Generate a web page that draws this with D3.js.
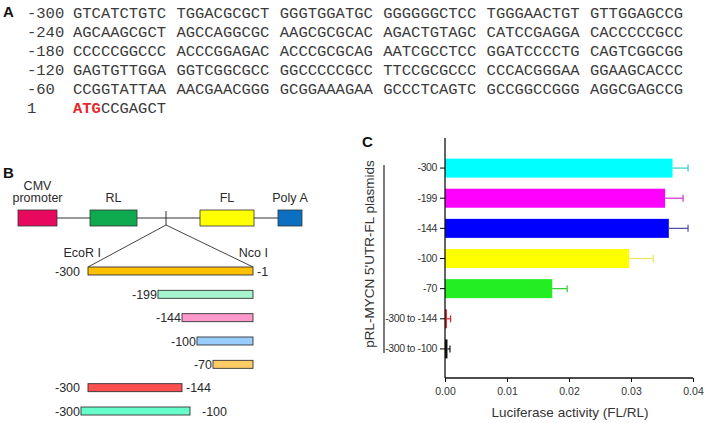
<!DOCTYPE html>
<html>
<head>
<meta charset="utf-8">
<script src="https://cdn.jsdelivr.net/npm/d3@7"></script>
<style>
body { margin:0; background:#fff; }
svg { display:block; }
</style>
</head>
<body>
<svg id="fig" width="704" height="423"></svg>
<script>
// panel A: sequence
var seqNumbers = ["-300", "-240", "-180", "-120", "-60", "1"];
var seqRows = [
  ["GTCATCTGTC", "TGGACGCGCT", "GGGTGGATGC", "GGGGGGCTCC", "TGGGAACTGT", "GTTGGAGCCG"],
  ["AGCAAGCGCT", "AGCCAGGCGC", "AAGCGCGCAC", "AGACTGTAGC", "CATCCGAGGA", "CACCCCCGCC"],
  ["CCCCCGGCCC", "ACCCGGAGAC", "ACCCGCGCAG", "AATCGCCTCC", "GGATCCCCTG", "CAGTCGGCGG"],
  ["GAGTGTTGGA", "GGTCGGCGCC", "GGCCCCCGCC", "TTCCGCGCCC", "CCCACGGGAA", "GGAAGCACCC"],
  ["CCGGTATTAA", "AACGAACGGG", "GCGGAAAGAA", "GCCCTCAGTC", "GCCGGCCGGG", "AGGCGAGCCG"],
  ["CCGAGCT"]
];
var startCodon = "ATG";

// panel B: vector and fragments
var cassette = ["CMV promoter", "RL", "FL", "Poly A"];
var cassetteColors = ["#e8095f", "#0fa94f", "#ffff00", "#0b6fc2"];
var fragStart = [-300, -199, -144, -100, -70, -300, -300];
var fragEnd = [-1, -1, -1, -1, -1, -144, -100];
var fragLeft = ["-300", "-199", "-144", "-100", "-70", "-300", "-300"];
var fragRight = ["-1", "", "", "", "", "-144", "-100"];
var fragColors = ["#ffc000", "#a6f5cf", "#ff99cc", "#99ccff", "#ffcc66", "#ff4f4f", "#66ffcc"];

// panel C: luciferase activity
var plasmids = ["-300", "-199", "-144", "-100", "-70", "-300 to -144", "-300 to -100"];
var activity = [0.0367, 0.0355, 0.0361, 0.0297, 0.0173, 0.0003, 0.0004];
var activityErr = [0.0025, 0.0029, 0.0031, 0.0039, 0.0024, 0.0006, 0.0004];
var barColors = ["#00ffff", "#ff00ff", "#0000ff", "#ffff00", "#22ee22", "#ee1111", "#111111"];
var errColors = ["#33cccc", "#cc33cc", "#4a4aa8", "#e8e860", "#33cc33", "#ee2222", "#111111"];
var xTicks = [0, 0.01, 0.02, 0.03, 0.04];

var svg = d3.select("#fig");
var sans = "Liberation Sans, Arial, sans-serif";
var mono = "Liberation Mono, Courier New, monospace";

function panelLabel(t, x, y) {
  svg.append("text").attr("x", x).attr("y", y)
    .attr("font-family", sans).attr("font-weight", "bold").attr("font-size", 15)
    .attr("fill", "#111").text(t);
}

// ---------- A ----------
panelLabel("A", 3, 17);
var gx = d3.scaleLinear().domain([0, 5]).range([73, 590]);
var ry = d3.scaleLinear().domain([0, 5]).range([18, 113]);
var gA = svg.append("g").attr("font-family", mono).attr("font-size", 15.5).attr("fill", "#3a3a3a");
seqNumbers.forEach(function(n, i) {
  gA.append("text").attr("x", 27).attr("y", ry(i)).text(n);
});
seqRows.forEach(function(row, i) {
  row.forEach(function(s, j) {
    var t = gA.append("text").attr("x", gx(j)).attr("y", ry(i));
    if (i == seqRows.length - 1 && j == 0) {
      t.append("tspan").attr("fill", "#e8262a").attr("font-weight", "bold").text(startCodon);
      t.append("tspan").text(s);
    } else {
      t.text(s);
    }
  });
});

// ---------- B ----------
panelLabel("B", 3, 178);
var boxX = [[18, 57], [90, 137], [200, 254], [278, 302]];
var boxY = 210, boxH = 16, siteX = 166;
var gB = svg.append("g").attr("font-family", sans).attr("font-size", 12.5).attr("fill", "#2a2a2a");

gB.append("line").attr("x1", boxX[0][1]).attr("x2", boxX[3][0])
  .attr("y1", boxY + boxH / 2).attr("y2", boxY + boxH / 2).attr("stroke", "#333");
gB.append("line").attr("x1", siteX).attr("x2", siteX)
  .attr("y1", boxY + 1).attr("y2", boxY + boxH - 1).attr("stroke", "#333");
cassette.forEach(function(name, i) {
  gB.append("rect").attr("x", boxX[i][0]).attr("y", boxY)
    .attr("width", boxX[i][1] - boxX[i][0]).attr("height", boxH)
    .attr("fill", cassetteColors[i]).attr("stroke", "#333").attr("stroke-width", 0.8);
  var cx = (boxX[i][0] + boxX[i][1]) / 2;
  var words = i == 0 ? name.split(" ") : [name];
  words.forEach(function(w, k) {
    gB.append("text").attr("x", cx).attr("y", 202 - (words.length - 1 - k) * 12.5)
      .attr("text-anchor", "middle").text(w);
  });
});

// fragment scale (schematic, not to scale)
var nt = d3.scaleLinear().domain([-300, -199, -144, -100, -70, -1])
  .range([88, 158, 182, 197, 213, 253]);
var fy = d3.scaleLinear().domain([0, 6]).range([267, 407]);
var fragDx = [0, 0, 0, 0, 0, 0, -7];
var fh = 8;

gB.append("path")
  .attr("d", "M" + nt(fragStart[0]) + "," + fy(0) + "L" + siteX + "," + (boxY + boxH - 1) +
    "L" + nt(fragEnd[0]) + "," + fy(0))
  .attr("fill", "none").attr("stroke", "#444");
gB.append("text").attr("x", 101).attr("y", 257).attr("text-anchor", "end").text("EcoR I");
gB.append("text").attr("x", 268).attr("y", 257).attr("text-anchor", "end").text("Nco I");

fragStart.forEach(function(s, i) {
  var x0 = nt(s) + fragDx[i], x1 = nt(fragEnd[i]) + fragDx[i];
  gB.append("rect").attr("x", x0).attr("y", fy(i)).attr("width", x1 - x0).attr("height", fh)
    .attr("fill", fragColors[i]).attr("stroke", "#333").attr("stroke-width", 0.9);
  var gap = (i == 0 || i == 5) ? 8 : 1;
  gB.append("text").attr("x", x0 - gap).attr("y", fy(i) + fh + 0.5)
    .attr("text-anchor", "end").text(fragLeft[i]);
  if (fragRight[i]) {
    gB.append("text").attr("x", x1 + (i == 6 ? 12 : 4)).attr("y", fy(i) + fh + 0.5)
      .text(fragRight[i]);
  }
});

// ---------- C ----------
panelLabel("C", 362, 147);
var x = d3.scaleLinear().domain([0, 0.04]).range([445, 693]);
var y = d3.scaleBand().domain(plasmids).range([153, 364]).paddingInner(0.37).paddingOuter(0.185);
var yTop = 138, yBot = 378;
var gC = svg.append("g");

gC.selectAll(".bar").data(plasmids).enter().append("rect")
  .attr("class", "bar")
  .attr("x", x(0))
  .attr("y", function(d) { return y(d); })
  .attr("width", function(d, i) { return Math.max(x(activity[i]) - x(0), 1.5); })
  .attr("height", y.bandwidth())
  .attr("fill", function(d, i) { return barColors[i]; });

plasmids.forEach(function(p, i) {
  var cy = y(p) + y.bandwidth() / 2;
  var xe = x(activity[i] + activityErr[i]);
  gC.append("line").attr("x1", x(activity[i])).attr("x2", xe).attr("y1", cy).attr("y2", cy)
    .attr("stroke", errColors[i]).attr("stroke-width", 1.2);
  gC.append("line").attr("x1", xe).attr("x2", xe).attr("y1", cy - 3.5).attr("y2", cy + 3.5)
    .attr("stroke", errColors[i]).attr("stroke-width", 1.2);
});

var yAxis = gC.append("g").attr("transform", "translate(" + x(0) + ",0)")
  .call(d3.axisLeft(y).tickSize(5).tickPadding(3));
yAxis.select(".domain").remove();
yAxis.selectAll("text").attr("font-family", sans).attr("font-size", 10.5).attr("fill", "#333")
  .attr("letter-spacing", -0.4);
gC.append("line").attr("x1", x(0)).attr("x2", x(0)).attr("y1", yTop).attr("y2", yBot)
  .attr("stroke", "#111").attr("stroke-width", 1.3);

var xAxis = gC.append("g").attr("transform", "translate(0," + yBot + ")")
  .call(d3.axisBottom(x).tickValues(xTicks).tickFormat(d3.format(".2f")).tickSize(4).tickPadding(6));
xAxis.select(".domain").remove();
xAxis.selectAll("text").attr("font-family", sans).attr("font-size", 10.5).attr("fill", "#333");
gC.append("line").attr("x1", x(0)).attr("x2", x(0.04)).attr("y1", yBot).attr("y2", yBot)
  .attr("stroke", "#111").attr("stroke-width", 1.3);

gC.append("text").attr("x", 570).attr("y", 417)
  .attr("text-anchor", "middle").attr("font-family", sans).attr("font-size", 13.5).attr("fill", "#333")
  .text("Luciferase activity (FL/RL)");

gC.append("line").attr("x1", 384).attr("x2", 384).attr("y1", 165).attr("y2", 353)
  .attr("stroke", "#222").attr("stroke-width", 1.2);
gC.append("text").attr("transform", "translate(374,254)rotate(-90)")
  .attr("text-anchor", "middle").attr("font-family", sans).attr("font-size", 13.5).attr("fill", "#333")
  .text("pRL-MYCN 5'UTR-FL plasmids");
</script>
</body>
</html>
